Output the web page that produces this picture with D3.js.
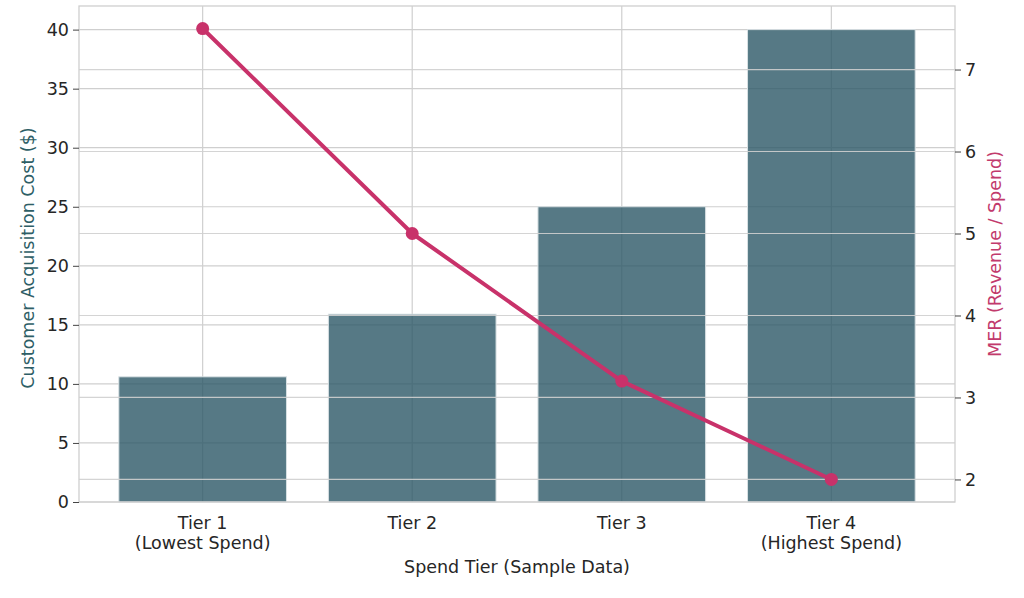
<!DOCTYPE html>
<html>
<head>
<meta charset="utf-8">
<script src="https://cdn.jsdelivr.net/npm/d3@7"></script>
<style>
  body { margin: 0; background: #fff; }
  text { font-family: "DejaVu Sans", sans-serif; }
</style>
</head>
<body>
<div id="root"></div>
<script>
// Data
var tiers = ["Tier 1\n(Lowest Spend)", "Tier 2", "Tier 3", "Tier 4\n(Highest Spend)"];
var cac = [10.6, 15.9, 25, 40];
var mer = [7.5, 5.0, 3.2, 2.0];
var cacTicks = [0, 5, 10, 15, 20, 25, 30, 35, 40];
var merTicks = [2, 3, 4, 5, 6, 7];

var W = 1024, H = 598;
var margin = {top: 6, right: 69, bottom: 96, left: 79},
    width = W - margin.left - margin.right,
    height = H - margin.top - margin.bottom;

var barColor = "#2c5766",
    lineColor = "#c8326a",
    gridColor = "#cfcfcf",
    textColor = "#262626",
    fs = 17.5;

var svg = d3.select("#root")
            .append("svg")
            .attr("width", W)
            .attr("height", H)
            .append("g")
            .attr("transform", "translate(" + margin.left + "," + margin.top + ")");

// Scales (matplotlib style 5% margins)
var x = d3.scaleLinear()
          .domain([-0.59, tiers.length - 1 + 0.59])
          .range([0, width]);
var barW = x(0.4) - x(-0.4);

var y = d3.scaleLinear()
          .domain([0, d3.max(cac) * 1.05])
          .range([height, 0]);

var merMin = d3.min(mer), merMax = d3.max(mer), pad = (merMax - merMin) * 0.05;
var y2 = d3.scaleLinear()
           .domain([merMin - pad, merMax + pad])
           .range([height, 0]);

// Vertical grid (x categories)
svg.append("g")
   .selectAll("line")
   .data(tiers)
   .enter().append("line")
   .attr("x1", function (d, i) { return x(i); })
   .attr("x2", function (d, i) { return x(i); })
   .attr("y1", 0)
   .attr("y2", height)
   .attr("stroke", gridColor)
   .attr("stroke-width", 1.2);

// Left grid
svg.append("g")
   .selectAll("line")
   .data(cacTicks)
   .enter().append("line")
   .attr("x1", 0)
   .attr("x2", width)
   .attr("y1", function (d) { return y(d); })
   .attr("y2", function (d) { return y(d); })
   .attr("stroke", gridColor)
   .attr("stroke-width", 1.2);

// Bars
svg.selectAll(".bar")
   .data(cac)
   .enter().append("rect")
   .attr("class", "bar")
   .attr("x", function (d, i) { return x(i) - barW / 2; })
   .attr("y", function (d) { return y(d); })
   .attr("width", barW)
   .attr("height", function (d) { return height - y(d); })
   .attr("fill", barColor)
   .attr("fill-opacity", 0.8)
   .attr("stroke", "#d8e0e3")
   .attr("stroke-width", 1);

// Right grid (drawn on top of bars, twin axes)
svg.append("g")
   .selectAll("line")
   .data(merTicks)
   .enter().append("line")
   .attr("x1", 0)
   .attr("x2", width)
   .attr("y1", function (d) { return y2(d); })
   .attr("y2", function (d) { return y2(d); })
   .attr("stroke", gridColor)
   .attr("stroke-opacity", 0.9)
   .attr("stroke-width", 1.2);

// MER line
var line = d3.line()
             .x(function (d, i) { return x(i); })
             .y(function (d) { return y2(d); });

svg.append("path")
   .datum(mer)
   .attr("d", line)
   .attr("fill", "none")
   .attr("stroke", lineColor)
   .attr("stroke-width", 4)
   .attr("stroke-linejoin", "round");

svg.selectAll(".dot")
   .data(mer)
   .enter().append("circle")
   .attr("class", "dot")
   .attr("cx", function (d, i) { return x(i); })
   .attr("cy", function (d) { return y2(d); })
   .attr("r", 6.5)
   .attr("fill", lineColor);

// Frame
svg.append("rect")
   .attr("width", width)
   .attr("height", height)
   .attr("fill", "none")
   .attr("stroke", gridColor)
   .attr("stroke-width", 1.3);

// Left axis
var yAxis = svg.append("g")
               .call(d3.axisLeft(y).tickValues(cacTicks).tickSize(6).tickPadding(4));
yAxis.attr("font-size", fs).attr("font-family", "DejaVu Sans");
yAxis.select(".domain").remove();
yAxis.selectAll(".tick line").attr("stroke", "#444");
yAxis.selectAll("text").attr("fill", textColor);

// Right axis
var y2Axis = svg.append("g")
                .attr("transform", "translate(" + width + ",0)")
                .call(d3.axisRight(y2).tickValues(merTicks).tickFormat(d3.format("d")).tickSize(6).tickPadding(4));
y2Axis.attr("font-size", fs).attr("font-family", "DejaVu Sans");
y2Axis.select(".domain").remove();
y2Axis.selectAll(".tick line").attr("stroke", "#444");
y2Axis.selectAll("text").attr("fill", textColor);

// X tick labels (two lines)
var xLabels = svg.append("g")
                 .selectAll("text")
                 .data(tiers)
                 .enter().append("text")
                 .attr("text-anchor", "middle")
                 .attr("font-size", fs)
                 .attr("fill", textColor)
                 .attr("transform", function (d, i) { return "translate(" + x(i) + "," + (height + 27) + ")"; });

xLabels.selectAll("tspan")
       .data(function (d) { return d.split("\n"); })
       .enter().append("tspan")
       .attr("x", 0)
       .attr("dy", function (d, i) { return i === 0 ? 0 : 20; })
       .text(function (d) { return d; });

// Axis titles
svg.append("text")
   .attr("text-anchor", "middle")
   .attr("x", width / 2)
   .attr("y", height + 71)
   .attr("font-size", fs)
   .attr("fill", textColor)
   .text("Spend Tier (Sample Data)");

svg.append("text")
   .attr("text-anchor", "middle")
   .attr("transform", "translate(" + (-45) + "," + (height / 2 + 4) + ") rotate(-90)")
   .attr("font-size", fs)
   .attr("fill", "#2e5e66")
   .text("Customer Acquisition Cost ($)");

svg.append("text")
   .attr("text-anchor", "middle")
   .attr("transform", "translate(" + (width + 46) + "," + (height / 2) + ") rotate(-90)")
   .attr("font-size", fs)
   .attr("fill", "#c23a6c")
   .text("MER (Revenue / Spend)");
</script>
</body>
</html>
